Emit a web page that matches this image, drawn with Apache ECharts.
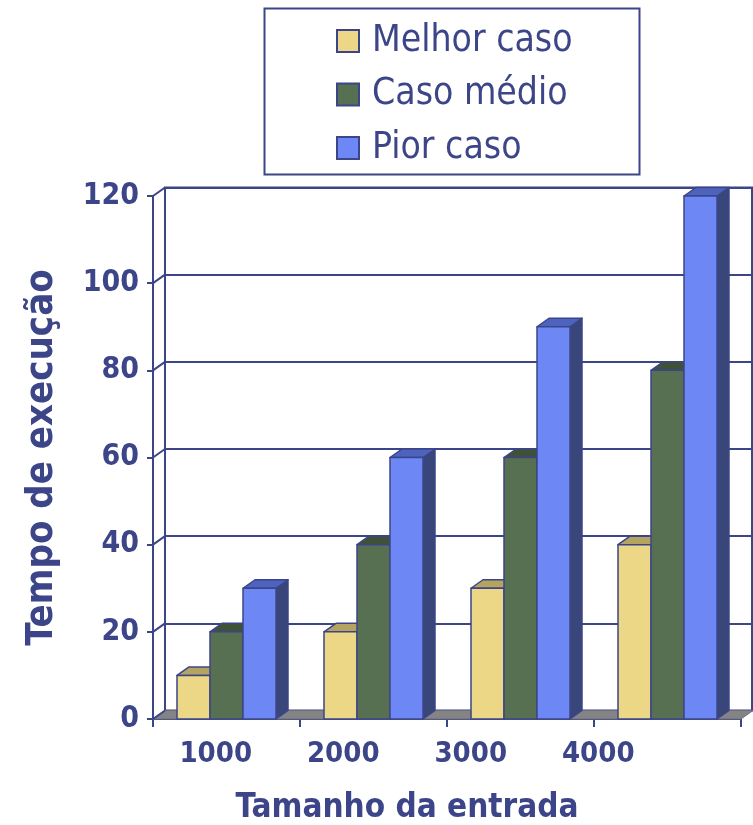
<!DOCTYPE html>
<html>
<head>
<meta charset="utf-8">
<script src="https://cdn.jsdelivr.net/npm/echarts@6/dist/echarts.min.js"></script>
<style>
  html, body { margin: 0; padding: 0; background: #ffffff; }
  #chart { width: 753px; height: 825px; }
</style>
</head>
<body>
<div id="chart"></div>
<script>
// Input sizes and measured execution times
const categories = ['1000', '2000', '3000', '4000'];
const melhorCaso = [10, 20, 30, 40];
const casoMedio = [20, 40, 60, 80];
const piorCaso = [30, 60, 90, 120];
const yTicks = [0, 20, 40, 60, 80, 100, 120];

const seriesNames = ['Melhor caso', 'Caso médio', 'Pior caso'];
const seriesValues = [melhorCaso, casoMedio, piorCaso];

const NAVY = '#3d4589';
const FONT = '"DejaVu Sans Condensed", "DejaVu Sans", Tahoma, sans-serif';
// pseudo-3D depth offset of the plot (to the right and up)
const DX = 12, DY = 8.5;

const palette = [
  { front: '#ebd785', top: '#b4a460', side: '#8a7d45' },
  { front: '#577052', top: '#3f5238', side: '#34452f' },
  { front: '#6d88f5', top: '#4d63bd', side: '#38467a' }
];

function barRenderer(si) {
  return function (params, api) {
    const cat = api.value(0);
    const val = api.value(1);
    const base = api.coord([cat, 0]);
    const top = api.coord([cat, val]);
    const band = api.size([1, 0])[0];
    const bw = band * 0.2245;
    const x0 = base[0] - 1.5 * bw + si * bw;
    const x1 = x0 + bw;
    const c = palette[si];
    const stroke = { stroke: NAVY, lineWidth: 1.5, lineJoin: 'round' };
    return {
      type: 'group',
      children: [
        { type: 'polygon', shape: { points: [[x1, top[1]], [x1 + DX, top[1] - DY], [x1 + DX, base[1] - DY], [x1, base[1]]] },
          style: Object.assign({ fill: c.side }, stroke) },
        { type: 'polygon', shape: { points: [[x0, top[1]], [x0 + DX, top[1] - DY], [x1 + DX, top[1] - DY], [x1, top[1]]] },
          style: Object.assign({ fill: c.top }, stroke) },
        { type: 'rect', shape: { x: x0, y: top[1], width: bw, height: base[1] - top[1] },
          style: Object.assign({ fill: c.front }, stroke) }
      ]
    };
  };
}

const chart = echarts.init(document.getElementById('chart'), null, { renderer: 'canvas' });

const barSeries = seriesNames.map((name, si) => ({
  name: name,
  type: 'custom',
  xAxisIndex: 0,
  yAxisIndex: 0,
  z: 5,
  renderItem: barRenderer(si),
  itemStyle: { color: palette[si].front, borderColor: NAVY, borderWidth: 2 },
  data: seriesValues[si].map((v, i) => [i, v])
}));

chart.setOption({
  backgroundColor: '#ffffff',
  animation: false,
  textStyle: { fontFamily: FONT },
  graphic: [{
    type: 'rect',
    shape: { x: 264.5, y: 8.5, width: 375, height: 166 },
    style: { fill: '#ffffff', stroke: NAVY, lineWidth: 2 },
    z: -1
  }],
  legend: {
    orient: 'vertical',
    left: 336,
    top: 21,
    padding: 0,
    itemWidth: 22,
    itemHeight: 22,
    itemGap: 13.5,
    icon: 'rect',
    selectedMode: false,
    data: seriesNames,
    textStyle: { color: NAVY, fontSize: 37, lineHeight: 40, fontFamily: FONT, padding: [0, 0, 0, 8] }
  },
  grid: [
    // front plane
    { left: 153, right: 12, top: 196, bottom: 106, outerBoundsMode: 'none' },
    // back wall
    { left: 165, right: 1, top: 187.5, bottom: 114.5, outerBoundsMode: 'none',
      show: true, borderColor: NAVY, borderWidth: 2, backgroundColor: 'transparent' },
    // category label band
    { left: 152, right: 91, top: 196, bottom: 106, outerBoundsMode: 'none' }
  ],
  xAxis: [
    { gridIndex: 0, type: 'category', data: categories, boundaryGap: true,
      axisLine: { lineStyle: { color: NAVY, width: 2 } },
      axisTick: { show: true, length: 8, lineStyle: { color: NAVY, width: 2 } },
      axisLabel: { show: false } },
    { gridIndex: 1, type: 'category', data: categories, show: false },
    { gridIndex: 2, type: 'category', data: categories,
      axisLine: { show: false }, axisTick: { show: false },
      axisLabel: { color: NAVY, fontSize: 29, fontWeight: 'bold', margin: 21, fontFamily: FONT },
      name: 'Tamanho da entrada', nameLocation: 'middle', nameGap: 73,
      nameTextStyle: { color: NAVY, fontSize: 33, fontWeight: 'bold', fontFamily: FONT } }
  ],
  yAxis: [
    { gridIndex: 0, type: 'value', min: 0, max: 120, interval: 20,
      axisLine: { show: true, lineStyle: { color: NAVY, width: 2 } },
      axisTick: { show: true, length: 6, lineStyle: { color: NAVY, width: 2 } },
      splitLine: { show: false },
      axisLabel: { color: NAVY, fontSize: 30, fontWeight: 'bold', margin: 14, fontFamily: FONT },
      name: 'Tempo de execução', nameLocation: 'middle', nameGap: 92, nameRotate: 90,
      nameTextStyle: { color: NAVY, fontSize: 38, fontWeight: 'bold', fontFamily: FONT } },
    { gridIndex: 1, type: 'value', min: 0, max: 120, interval: 20,
      axisLine: { show: false }, axisTick: { show: false }, axisLabel: { show: false },
      splitLine: { show: true, lineStyle: { color: NAVY, width: 2 } } },
    { gridIndex: 2, type: 'value', min: 0, max: 120, show: false }
  ],
  series: [
    // floor of the plot
    {
      type: 'custom', xAxisIndex: 0, yAxisIndex: 0, z: 3, silent: true,
      data: [[0, 0]],
      renderItem: function (params, api) {
        const band = api.size([1, 0])[0];
        const l = api.coord([0, 0]);
        const r = api.coord([categories.length - 1, 0]);
        const xl = l[0] - band / 2, xr = r[0] + band / 2, y = l[1];
        return { type: 'polygon', shape: { points: [[xl, y], [xl + DX, y - DY], [xr + DX, y - DY], [xr, y]] },
          style: { fill: '#848484', stroke: '#6a6c80', lineWidth: 1 } };
      }
    },
    // left side-wall connectors from the front ticks to the back wall
    {
      type: 'custom', xAxisIndex: 0, yAxisIndex: 0, z: 4, silent: true,
      data: yTicks.map(v => [0, v]),
      renderItem: function (params, api) {
        const band = api.size([1, 0])[0];
        const p = api.coord([0, api.value(1)]);
        const x = p[0] - band / 2;
        return { type: 'line', shape: { x1: x, y1: p[1], x2: x + DX, y2: p[1] - DY },
          style: { stroke: NAVY, lineWidth: 2 } };
      }
    }
  ].concat(barSeries)
});
</script>
</body>
</html>
